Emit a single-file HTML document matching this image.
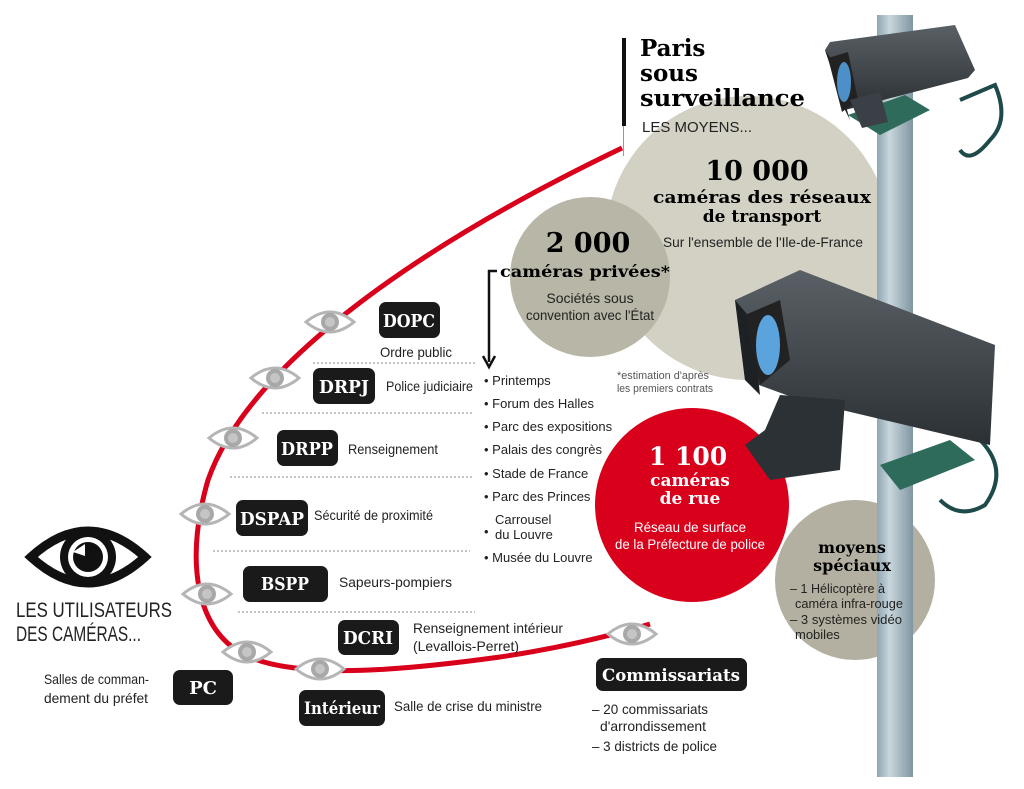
<!DOCTYPE html>
<html><head><meta charset="utf-8">
<style>
html,body{margin:0;padding:0;background:#fff;}
svg{display:block;}
.n{font-family:"Liberation Sans Narrow","Liberation Sans",sans-serif;}
.s{font-family:"DejaVu Serif","Liberation Serif",serif;font-weight:bold;}
.box{fill:#1a1a1a;}
.bt{font-family:"DejaVu Serif","Liberation Serif",serif;font-weight:bold;fill:#fff;}
</style></head>
<body>
<svg width="1024" height="789" viewBox="0 0 1024 789" xmlns="http://www.w3.org/2000/svg">
<defs>
<linearGradient id="pole" x1="0" x2="1">
<stop offset="0" stop-color="#8fa6b2"/><stop offset="0.35" stop-color="#c9d6dd"/><stop offset="1" stop-color="#7f96a2"/>
</linearGradient>
<linearGradient id="cam" x1="0" y1="0" x2="0" y2="1">
<stop offset="0" stop-color="#5a6166"/><stop offset="1" stop-color="#2b3034"/>
</linearGradient>
<g id="eye">
<path d="M-24,0 Q0,-20 24,0 Q0,20 -24,0Z" fill="#fff" stroke="#b5b5b5" stroke-width="3"/>
<circle r="9" fill="#a8a8a8"/><circle r="5" fill="#c5c5c5"/>
</g>
</defs>

<circle cx="748" cy="238" r="142" fill="#d3d1c4"/>
<circle cx="590" cy="277" r="80" fill="#b8b6a6"/>
<circle cx="692" cy="505" r="97" fill="#d8001b"/>
<circle cx="855" cy="580" r="80" fill="#b3b0a1"/>

<rect x="877" y="15" width="36" height="762" fill="url(#pole)"/>

<!-- top camera -->
<path d="M960,100 L995,85 Q1010,120 990,140 Q970,165 960,150" fill="none" stroke="#1f4a4a" stroke-width="4"/>
<path d="M848,115 L905,95 L930,110 L880,135Z" fill="#2f6b5a"/>
<polygon points="825,50 830,42 955,25 975,70 968,78 845,110" fill="url(#cam)"/>
<polygon points="825,50 845,110 850,120 832,60" fill="#1f2326"/>
<polygon points="828,58 848,52 858,100 842,112" fill="#222"/>
<ellipse cx="844" cy="82" rx="7" ry="20" fill="#4d8fc7"/>
<polygon points="850,100 880,92 888,122 862,128" fill="#3a4045"/>

<!-- bottom camera -->
<path d="M980,440 Q1010,470 985,505 Q960,520 940,500" fill="none" stroke="#1f4a4a" stroke-width="4"/>
<path d="M880,465 L950,440 L975,460 L900,490Z" fill="#2f6b5a"/>
<polygon points="735,300 800,270 995,345 990,445 800,400 745,380" fill="url(#cam)"/>
<polygon points="735,300 745,380 760,395 752,320" fill="#1d2124"/>
<polygon points="745,315 780,300 790,360 760,385" fill="#222"/>
<ellipse cx="768" cy="345" rx="12" ry="30" fill="#5aa3dd"/>
<polygon points="780,395 845,400 840,470 770,480 745,445 765,430" fill="#2c3135"/>

<rect x="622" y="38" width="4" height="88" fill="#111"/>
<rect x="623" y="126" width="1" height="30" fill="#999"/>
<text class="s" x="640" y="56" font-size="23">Paris</text>
<text class="s" x="640" y="81" font-size="23">sous</text>
<text class="s" x="640" y="106" font-size="23" textLength="165" lengthAdjust="spacingAndGlyphs">surveillance</text>
<text class="n" x="642" y="132" font-size="15" fill="#222" textLength="110" lengthAdjust="spacingAndGlyphs">LES MOYENS...</text>

<text class="s" x="757" y="180" font-size="27" text-anchor="middle">10 000</text>
<text class="s" x="762" y="203" font-size="17" text-anchor="middle" textLength="218" lengthAdjust="spacingAndGlyphs">caméras des réseaux</text>
<text class="s" x="762" y="222" font-size="17" text-anchor="middle">de transport</text>
<text class="n" x="763" y="247" font-size="14" text-anchor="middle" fill="#222" textLength="200" lengthAdjust="spacingAndGlyphs">Sur l'ensemble de l'Ile-de-France</text>

<text class="s" x="588" y="252" font-size="27" text-anchor="middle">2 000</text>
<text class="s" x="585" y="277" font-size="16" text-anchor="middle" textLength="170" lengthAdjust="spacingAndGlyphs">caméras privées*</text>
<text class="n" x="590" y="303" font-size="14" text-anchor="middle" fill="#222">Sociétés sous</text>
<text class="n" x="590" y="320" font-size="14" text-anchor="middle" fill="#222" textLength="128" lengthAdjust="spacingAndGlyphs">convention avec l'État</text>
<text class="n" x="617" y="379" font-size="11" fill="#555" textLength="92" lengthAdjust="spacingAndGlyphs">*estimation d'après</text>
<text class="n" x="617" y="392" font-size="11" fill="#555" textLength="96" lengthAdjust="spacingAndGlyphs">les premiers contrats</text>

<text class="s" x="688" y="465" font-size="25" text-anchor="middle" fill="#fff">1 100</text>
<text class="s" x="690" y="486" font-size="17" text-anchor="middle" fill="#fff">caméras</text>
<text class="s" x="690" y="504" font-size="17" text-anchor="middle" fill="#fff">de rue</text>
<text class="n" x="690" y="532" font-size="14" text-anchor="middle" fill="#fff" textLength="112" lengthAdjust="spacingAndGlyphs">Réseau de surface</text>
<text class="n" x="690" y="549" font-size="14" text-anchor="middle" fill="#fff" textLength="150" lengthAdjust="spacingAndGlyphs">de la Préfecture de police</text>

<text class="s" x="852" y="553" font-size="16" text-anchor="middle">moyens</text>
<text class="s" x="852" y="571" font-size="16" text-anchor="middle">spéciaux</text>
<text class="n" x="790" y="593" font-size="13" fill="#222" textLength="95" lengthAdjust="spacingAndGlyphs">– 1 Hélicoptère à</text>
<text class="n" x="795" y="608" font-size="13" fill="#222" textLength="108" lengthAdjust="spacingAndGlyphs">caméra infra-rouge</text>
<text class="n" x="790" y="624" font-size="13" fill="#222" textLength="112" lengthAdjust="spacingAndGlyphs">– 3 systèmes vidéo</text>
<text class="n" x="795" y="639" font-size="13" fill="#222">mobiles</text>

<path d="M497,271 L489,271 L489,362" fill="none" stroke="#111" stroke-width="2.5"/>
<path d="M483,356 L489,367 L495,356" fill="none" stroke="#111" stroke-width="2.5"/>

<g class="n" font-size="13" fill="#222">
<text x="484" y="385">• Printemps</text>
<text x="484" y="408">• Forum des Halles</text>
<text x="484" y="431">• Parc des expositions</text>
<text x="484" y="454">• Palais des congrès</text>
<text x="484" y="478">• Stade de France</text>
<text x="484" y="501">• Parc des Princes</text>
<text x="495" y="524">Carrousel</text>
<text x="484" y="536">•</text>
<text x="495" y="539">du Louvre</text>
<text x="484" y="562">• Musée du Louvre</text>
</g>

<g stroke="#888" stroke-width="1" stroke-dasharray="2,2">
<line x1="313" y1="363" x2="475" y2="363"/>
<line x1="262" y1="413" x2="473" y2="413"/>
<line x1="230" y1="477" x2="473" y2="477"/>
<line x1="213" y1="551" x2="470" y2="551"/>
<line x1="238" y1="612" x2="475" y2="612"/>
</g>

<path d="M622,148 C430,240 250,360 208,480 C185,560 195,630 245,655 C300,682 420,668 500,657 C560,648 610,636 650,624" fill="none" stroke="#d8001b" stroke-width="5"/>

<use href="#eye" x="330" y="322"/>
<use href="#eye" x="275" y="378"/>
<use href="#eye" x="233" y="438"/>
<use href="#eye" x="205" y="514"/>
<use href="#eye" x="207" y="594"/>
<use href="#eye" x="247" y="652"/>
<use href="#eye" x="320" y="669"/>
<use href="#eye" x="632" y="634"/>

<rect class="box" x="379" y="302" width="61" height="36" rx="7"/><text class="bt" x="409" y="327" font-size="18" text-anchor="middle" textLength="52" lengthAdjust="spacingAndGlyphs">DOPC</text>
<text class="n" x="380" y="357" font-size="14" fill="#222" textLength="72" lengthAdjust="spacingAndGlyphs">Ordre public</text>
<rect class="box" x="313" y="368" width="62" height="36" rx="7"/><text class="bt" x="344" y="393" font-size="18" text-anchor="middle" textLength="50" lengthAdjust="spacingAndGlyphs">DRPJ</text>
<text class="n" x="386" y="391" font-size="14" fill="#222" textLength="87" lengthAdjust="spacingAndGlyphs">Police judiciaire</text>
<rect class="box" x="277" y="430" width="61" height="36" rx="7"/><text class="bt" x="307" y="455" font-size="18" text-anchor="middle" textLength="52" lengthAdjust="spacingAndGlyphs">DRPP</text>
<text class="n" x="348" y="454" font-size="14" fill="#222" textLength="90" lengthAdjust="spacingAndGlyphs">Renseignement</text>
<rect class="box" x="236" y="500" width="72" height="36" rx="7"/><text class="bt" x="272" y="525" font-size="18" text-anchor="middle" textLength="64" lengthAdjust="spacingAndGlyphs">DSPAP</text>
<text class="n" x="314" y="520" font-size="14" fill="#222" textLength="119" lengthAdjust="spacingAndGlyphs">Sécurité de proximité</text>
<rect class="box" x="243" y="566" width="85" height="36" rx="7"/><text class="bt" x="285" y="590" font-size="18" text-anchor="middle" textLength="48" lengthAdjust="spacingAndGlyphs">BSPP</text>
<text class="n" x="339" y="587" font-size="14" fill="#222" textLength="113" lengthAdjust="spacingAndGlyphs">Sapeurs-pompiers</text>
<rect class="box" x="338" y="620" width="61" height="35" rx="7"/><text class="bt" x="368" y="644" font-size="18" text-anchor="middle" textLength="50" lengthAdjust="spacingAndGlyphs">DCRI</text>
<text class="n" x="413" y="633" font-size="14" fill="#222" textLength="150" lengthAdjust="spacingAndGlyphs">Renseignement intérieur</text>
<text class="n" x="413" y="651" font-size="14" fill="#222" textLength="106" lengthAdjust="spacingAndGlyphs">(Levallois-Perret)</text>
<rect class="box" x="173" y="670" width="60" height="35" rx="7"/><text class="bt" x="203" y="694" font-size="18" text-anchor="middle">PC</text>
<text class="n" x="44" y="684" font-size="14" fill="#222" textLength="105" lengthAdjust="spacingAndGlyphs">Salles de comman-</text>
<text class="n" x="44" y="703" font-size="14" fill="#222" textLength="104" lengthAdjust="spacingAndGlyphs">dement du préfet</text>
<rect class="box" x="299" y="690" width="86" height="36" rx="7"/><text class="bt" x="342" y="714" font-size="17" text-anchor="middle" textLength="76" lengthAdjust="spacingAndGlyphs">Intérieur</text>
<text class="n" x="394" y="711" font-size="14" fill="#222" textLength="148" lengthAdjust="spacingAndGlyphs">Salle de crise du ministre</text>
<rect class="box" x="596" y="658" width="151" height="33" rx="7"/><text class="bt" x="671" y="681" font-size="17" text-anchor="middle" textLength="138" lengthAdjust="spacingAndGlyphs">Commissariats</text>
<text class="n" x="592" y="714" font-size="14" fill="#222" textLength="116" lengthAdjust="spacingAndGlyphs">– 20 commissariats</text>
<text class="n" x="600" y="731" font-size="14" fill="#222" textLength="106" lengthAdjust="spacingAndGlyphs">d'arrondissement</text>
<text class="n" x="592" y="751" font-size="14" fill="#222" textLength="125" lengthAdjust="spacingAndGlyphs">– 3 districts de police</text>

<path d="M31,557 Q88,505 145,557 Q88,609 31,557Z" fill="none" stroke="#111" stroke-width="9"/>
<circle cx="88" cy="557" r="28" fill="#111"/>
<circle cx="88" cy="557" r="20" fill="#fff"/>
<circle cx="88" cy="557" r="15" fill="#111"/>
<path d="M73,552 L85,544 L85,556Z" fill="#fff"/>
<text class="n" x="16" y="617" font-size="21" fill="#222" textLength="156" lengthAdjust="spacingAndGlyphs">LES UTILISATEURS</text>
<text class="n" x="16" y="641" font-size="21" fill="#222" textLength="125" lengthAdjust="spacingAndGlyphs">DES CAMÉRAS...</text>
</svg>
</body></html>
